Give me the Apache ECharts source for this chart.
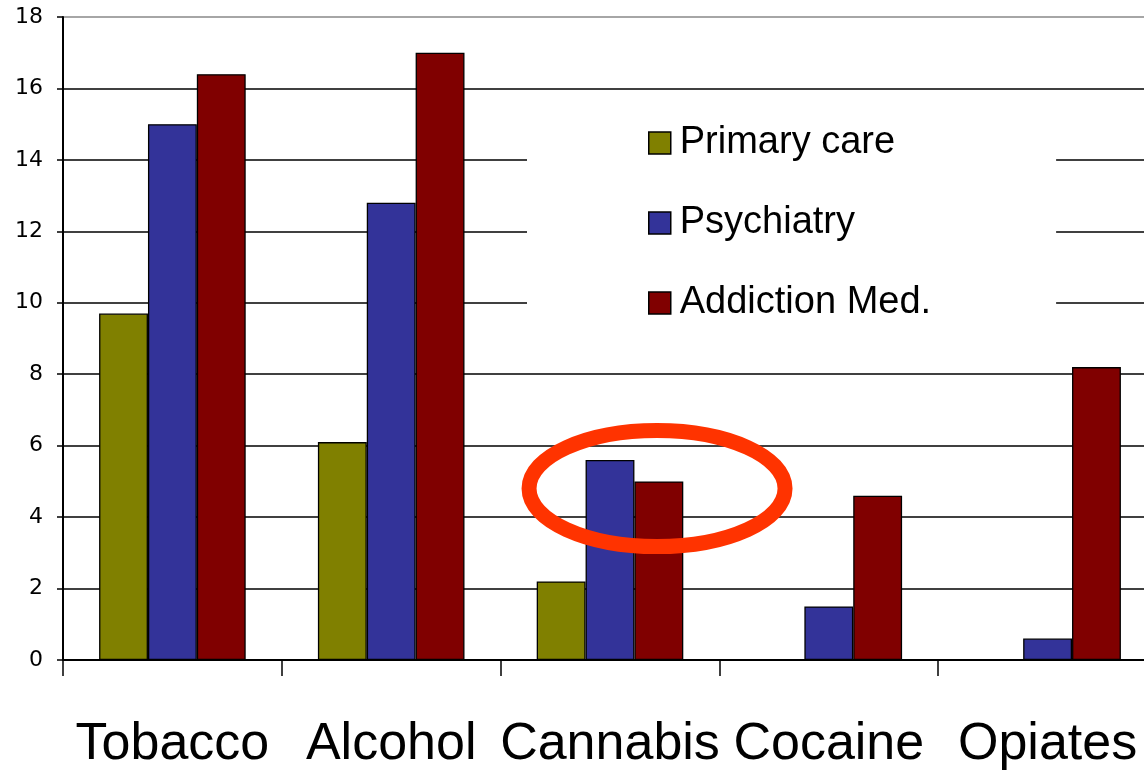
<!DOCTYPE html>
<html>
<head>
<meta charset="utf-8">
<script src="https://cdn.jsdelivr.net/npm/echarts@6/dist/echarts.min.js"></script>
<style>
html,body{margin:0;padding:0;background:#fff;}
#chart{width:1144px;height:770px;}
</style>
</head>
<body>
<div id="chart"></div>
<script>
const categories = ['Tobacco', 'Alcohol', 'Cannabis', 'Cocaine', 'Opiates'];
const seriesNames = ['Primary care', 'Psychiatry', 'Addiction Med.'];
const primaryCare = [9.7, 6.1, 2.2, 0, 0];
const psychiatry = [15.0, 12.8, 5.6, 1.5, 0.6];
const addictionMed = [16.4, 17.0, 5.0, 4.6, 8.2];
const yTicks = { min: 0, max: 18, interval: 2 };
const highlightCategory = 'Cannabis';
const highlightValue = 4.8;

const colors = ['#808000', '#333399', '#800000'];
const font = 'Liberation Sans, Arial, sans-serif';

const chart = echarts.init(document.getElementById('chart'), null, { renderer: 'canvas' });

const splitColors = [];
for (let v = yTicks.min; v <= yTicks.max; v += yTicks.interval) {
  splitColors.push(v === yTicks.max ? '#888888' : '#000000');
}

const mkSeries = (name, data, i) => ({
  name: name,
  type: 'bar',
  data: data,
  barGap: '0%',
  barCategoryGap: '33%',
  itemStyle: { color: colors[i], borderColor: '#000', borderWidth: 1.3 },
  emphasis: { disabled: true },
  animation: false
});

chart.setOption({
  animation: false,
  backgroundColor: '#fff',
  grid: { left: 63, top: 17, width: 1094, bottom: 110, containLabel: false, outerBoundsMode: 'none' },
  legend: {
    orient: 'vertical',
    left: 527,
    top: 98,
    padding: [25, 125, 25, 121],
    backgroundColor: '#fff',
    itemWidth: 22,
    itemHeight: 22,
    itemGap: 40,
    icon: 'rect',
    selectedMode: false,
    itemStyle: { borderColor: '#000', borderWidth: 1.5 },
    textStyle: { fontFamily: font, fontSize: 38, color: '#000', lineHeight: 40, padding: [0, 0, 0, 4] },
    data: seriesNames
  },
  xAxis: {
    type: 'category',
    data: categories,
    boundaryGap: true,
    axisLine: { show: true, lineStyle: { color: '#000', width: 2 } },
    axisTick: { show: true, length: 16, alignWithLabel: false, lineStyle: { color: '#000', width: 1.5 } },
    axisLabel: { fontFamily: font, fontSize: 52, color: '#000', margin: 59, interval: 0 },
    splitLine: { show: false }
  },
  yAxis: {
    type: 'value',
    min: yTicks.min,
    max: yTicks.max,
    interval: yTicks.interval,
    axisLine: { show: true, lineStyle: { color: '#000', width: 2 } },
    axisTick: { show: true, length: 6, lineStyle: { color: '#000', width: 1.5 } },
    axisLabel: { fontFamily: 'DejaVu Sans, sans-serif', fontSize: 22, color: '#000', margin: 20 },
    splitLine: { show: true, lineStyle: { color: splitColors, width: 1.5 } }
  },
  series: [
    mkSeries(seriesNames[0], primaryCare, 0),
    mkSeries(seriesNames[1], psychiatry, 1),
    mkSeries(seriesNames[2], addictionMed, 2)
  ]
});

// Annotation ellipse positioned from data coordinates
const c = chart.convertToPixel({ xAxisIndex: 0, yAxisIndex: 0 }, [highlightCategory, highlightValue]);
const c0 = chart.convertToPixel({ xAxisIndex: 0 }, categories[0]);
const c1 = chart.convertToPixel({ xAxisIndex: 0 }, categories[1]);
const band = c1 - c0;
chart.setOption({
  graphic: [{
    type: 'ellipse',
    z: 100,
    shape: { cx: c[0] + band * 0.215, cy: c[1], rx: band * 0.585, ry: 58 },
    style: { fill: 'none', stroke: '#ff3300', lineWidth: 15 }
  }]
});
</script>
</body>
</html>
